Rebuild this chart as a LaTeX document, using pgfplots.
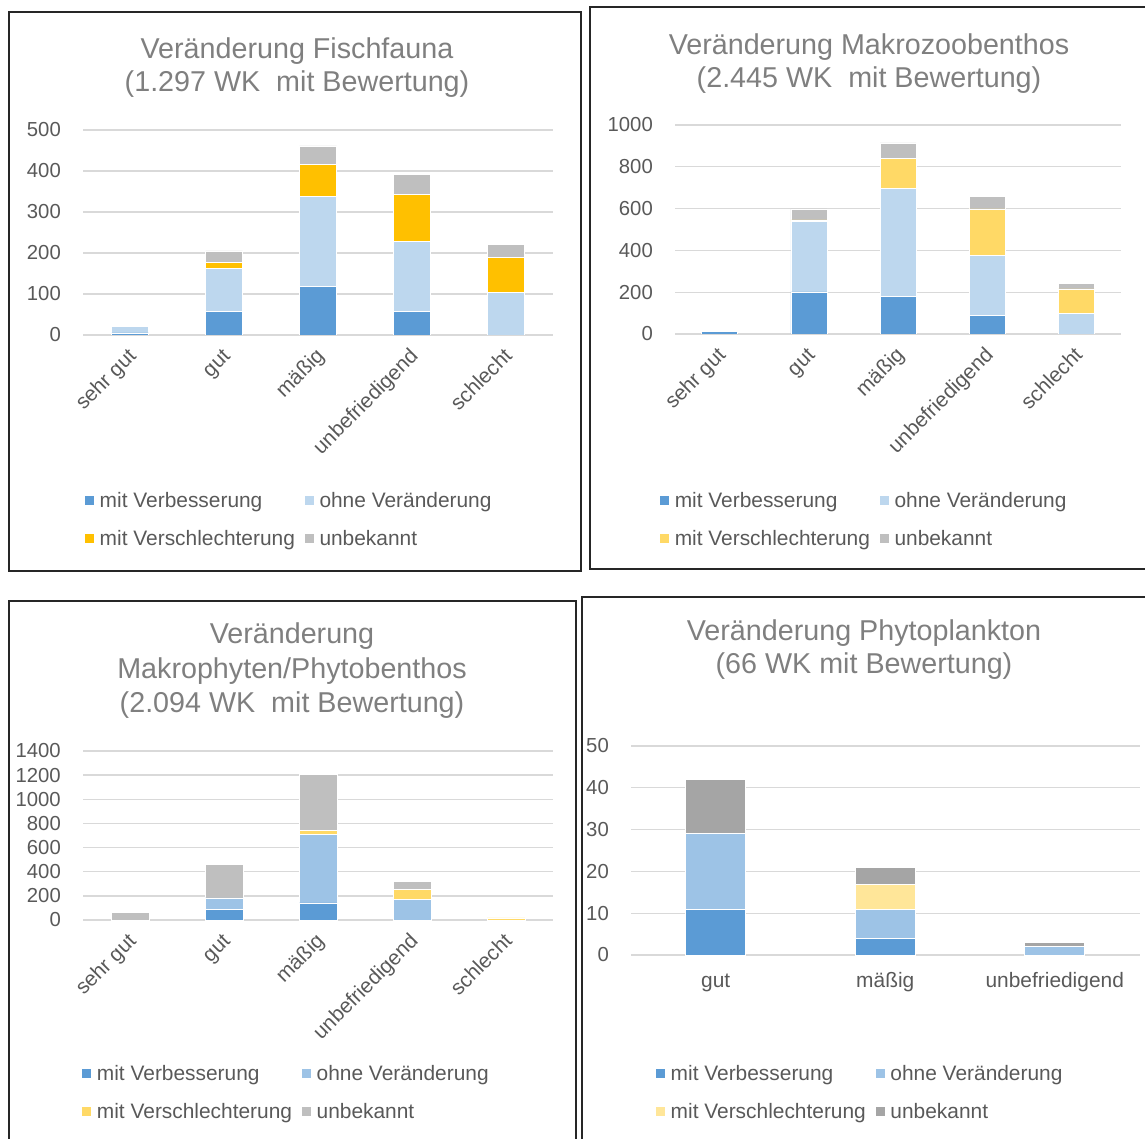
\documentclass[border=0pt]{standalone}
\usepackage{fontspec}
\setmainfont{Liberation Sans}
\usepackage{pgfplots}
\pgfplotsset{compat=1.18}
\definecolor{cDark}{HTML}{5B9BD5}
\definecolor{cLightA}{HTML}{BDD7EE}
\definecolor{cLightB}{HTML}{9DC3E6}
\definecolor{cOrange}{HTML}{FFC000}
\definecolor{cYellow}{HTML}{FFD966}
\definecolor{cPale}{HTML}{FFE699}
\definecolor{cGray}{HTML}{BFBFBF}
\definecolor{cGrayD}{HTML}{A5A5A5}
\definecolor{cGrid}{HTML}{D9D9D9}
\definecolor{cLabel}{HTML}{595959}
\definecolor{cTitle}{HTML}{7F7F7F}
\newcommand{\lblfont}{\fontsize{20.3}{24}\selectfont}
\newcommand{\legfont}{\fontsize{20.9}{24}\selectfont}
\newcommand{\ttlfont}{\fontsize{28.7}{33}\selectfont}
\pgfplotsset{
  panel/.style={
    scale only axis, anchor=south west,
    ybar stacked, ymin=0,
    axis line style={draw=none},
    major tick length=0pt,
    ymajorgrids, grid style={cGrid, line width=1.3pt},
    /pgf/number format/assume math mode=true,
    /pgf/number format/1000 sep={},
    yticklabel style={font=\lblfont, text=cLabel, anchor=east, inner sep=0pt, xshift=-22pt},
    legend columns=2,
    legend cell align=left,
    legend style={draw=none, fill=none, inner sep=0pt, font=\legfont,
       nodes={inner sep=0pt, text height=14.8pt, text depth=0pt, text=cLabel},
       row sep=23.2pt,
       /tikz/every odd column/.append style={column sep=5pt},
       /tikz/every even column/.append style={column sep=9pt},
       anchor=north west},
    legend image code/.code={\fill[##1] (0pt,-5pt) rectangle (10pt,5pt);},
    every axis plot/.append style={draw=white, line width=0.6pt},
  },
  rotlabels/.style={
    xtick={0,...,4},
    xticklabels={sehr gut, gut, mäßig, unbefriedigend, schlecht},
    xticklabel style={font=\legfont, text=cLabel, inner sep=0pt, text height=14.4pt, anchor=north east, xshift=-3pt, yshift=-12pt, rotate=45},
  }
}
\begin{document}
\begin{tikzpicture}[x=1pt,y=1pt]
\useasboundingbox (0pt,0pt) rectangle (1145pt,1138pt);
% frames
\draw[line width=1.5pt, black!85] (9pt,1126pt) rectangle (581pt,567pt);
\draw[line width=1.5pt, black!85] (590pt,1131pt) rectangle (1152pt,569pt);
\draw[line width=1.5pt, black!85] (9pt,537pt) rectangle (576pt,-6pt);
\draw[line width=1.5pt, black!85] (582pt,541pt) rectangle (1152pt,-6pt);
% titles
\node[font=\ttlfont, text=cTitle, anchor=base] at (297pt,1079pt) {Veränderung Fischfauna};
\node[font=\ttlfont, text=cTitle, anchor=base] at (297pt,1046pt) {(1.297 WK\ \ mit Bewertung)};
\node[font=\ttlfont, text=cTitle, anchor=base] at (869pt,1083pt) {Veränderung Makrozoobenthos};
\node[font=\ttlfont, text=cTitle, anchor=base] at (869pt,1050pt) {(2.445 WK\ \ mit Bewertung)};
\node[font=\ttlfont, text=cTitle, anchor=base] at (292pt,494pt) {Veränderung};
\node[font=\ttlfont, text=cTitle, anchor=base] at (292pt,459pt) {Makrophyten/Phytobenthos};
\node[font=\ttlfont, text=cTitle, anchor=base] at (292pt,425pt) {(2.094 WK\ \ mit Bewertung)};
\node[font=\ttlfont, text=cTitle, anchor=base] at (864pt,497pt) {Veränderung Phytoplankton};
\node[font=\ttlfont, text=cTitle, anchor=base] at (864pt,464pt) {(66 WK mit Bewertung)};

% Panel 1: Fischfauna
\begin{axis}[panel, rotlabels, at={(83pt,803pt)}, width=470pt, height=205pt,
  xmin=-0.5, xmax=4.5, ymax=500, ytick={0,100,...,500}, bar width=37pt,
  legend style={at={(0.002,-0.770)}}]
\addplot[fill=cDark] coordinates {(0,5) (1,58) (2,119) (3,58) (4,0)};
\addplot[fill=cLightA] coordinates {(0,16) (1,105) (2,219) (3,171) (4,103)};
\addplot[fill=cOrange] coordinates {(0,0) (1,14) (2,78) (3,114) (4,86)};
\addplot[fill=cGray] coordinates {(0,0) (1,28) (2,45) (3,49) (4,32)};
\legend{mit Verbesserung, ohne Veränderung, mit Verschlechterung, unbekannt}
\end{axis}

% Panel 2: Makrozoobenthos
\begin{axis}[panel, rotlabels, at={(675pt,804pt)}, width=446pt, height=209pt,
  xmin=-0.5, xmax=4.5, ymax=1000, ytick={0,200,...,1000}, bar width=36pt,
  legend style={at={(-0.036,-0.760)}}]
\addplot[fill=cDark] coordinates {(0,11) (1,201) (2,179) (3,89) (4,0)};
\addplot[fill=cLightA] coordinates {(0,5) (1,337) (2,517) (3,288) (4,97)};
\addplot[fill=cYellow] coordinates {(0,0) (1,8) (2,144) (3,222) (4,119)};
\addplot[fill=cGray] coordinates {(0,0) (1,53) (2,74) (3,58) (4,25)};
\legend{mit Verbesserung, ohne Veränderung, mit Verschlechterung, unbekannt}
\end{axis}

% Panel 3: Makrophyten/Phytobenthos
\begin{axis}[panel, rotlabels, at={(83pt,218pt)}, width=470pt, height=169pt,
  xmin=-0.5, xmax=4.5, ymax=1400, ytick={0,200,...,1400}, bar width=38pt,
  legend style={at={(-0.004,-0.863)}}]
\addplot[fill=cDark] coordinates {(0,0) (1,89) (2,141) (3,0) (4,0)};
\addplot[fill=cLightB] coordinates {(0,0) (1,94) (2,565) (3,169) (4,0)};
\addplot[fill=cYellow] coordinates {(0,0) (1,0) (2,33) (3,83) (4,17)};
\addplot[fill=cGray] coordinates {(0,61) (1,276) (2,467) (3,69) (4,0)};
\legend{mit Verbesserung, ohne Veränderung, mit Verschlechterung, unbekannt}
\end{axis}

% Panel 4: Phytoplankton
\begin{axis}[panel, at={(631pt,183pt)}, width=508.5pt, height=209pt,
  xmin=-0.5, xmax=2.5, ymax=50, ytick={0,10,...,50}, bar width=60pt,
  xtick={0,1,2}, xticklabels={gut, mäßig, unbefriedigend},
  xticklabel style={font=\legfont, text=cLabel, inner sep=0pt, anchor=base, yshift=-32pt},
  legend style={at={(0.047,-0.530)}}]
\addplot[fill=cDark] coordinates {(0,11) (1,4) (2,0)};
\addplot[fill=cLightB] coordinates {(0,18) (1,7) (2,2)};
\addplot[fill=cPale] coordinates {(0,0) (1,6) (2,0)};
\addplot[fill=cGrayD] coordinates {(0,13) (1,4) (2,1)};
\legend{mit Verbesserung, ohne Veränderung, mit Verschlechterung, unbekannt}
\end{axis}
\end{tikzpicture}
\end{document}
